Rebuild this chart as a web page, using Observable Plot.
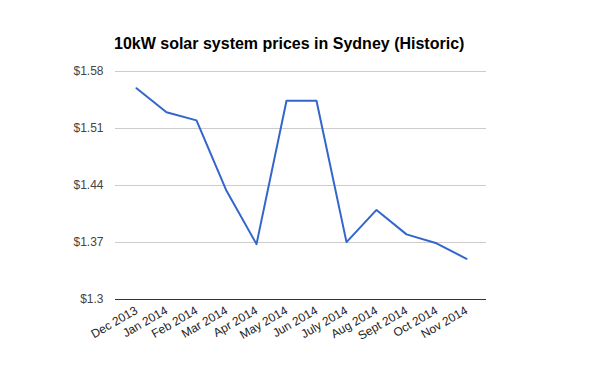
<!DOCTYPE html>
<html>
<head>
<meta charset="utf-8">
<script src="https://cdn.jsdelivr.net/npm/d3@7"></script>
<script src="https://cdn.jsdelivr.net/npm/@observablehq/plot@0.6"></script>
<style>
  html, body { margin: 0; padding: 0; background: #fff; }
  #wrap { position: relative; width: 600px; height: 371px; }
  #title { position: absolute; left: 114px; top: 35px; font: bold 16px Arial, "Liberation Sans", sans-serif; color: #000; white-space: nowrap; }
</style>
</head>
<body>
<div id="wrap"><div id="title">10kW solar system prices in Sydney (Historic)</div></div>
<script>
const months = ["Dec 2013","Jan 2014","Feb 2014","Mar 2014","Apr 2014","May 2014","Jun 2014","July 2014","Aug 2014","Sept 2014","Oct 2014","Nov 2014"];
const prices = [1.5595, 1.530, 1.520, 1.4335, 1.368, 1.544, 1.544, 1.3705, 1.410, 1.380, 1.369, 1.350];
const yTicks = [1.3, 1.37, 1.44, 1.51, 1.58];

const data = months.map((m, i) => ({month: m, price: prices[i]}));

const chart = Plot.plot({
  width: 600,
  height: 371,
  marginLeft: 115,
  marginRight: 114,
  marginTop: 71,
  marginBottom: 72,
  style: {fontFamily: "Arial, 'Liberation Sans', sans-serif", fontSize: "12px", background: "#fff", overflow: "visible"},
  x: {type: "point", domain: months, padding: 0.5, align: 0.5, label: null},
  y: {domain: [1.3, 1.58], label: null},
  marks: [
    Plot.gridY(yTicks, {stroke: "#cccccc", strokeOpacity: 1, strokeWidth: 1}),
    Plot.ruleY([1.3], {stroke: "#333333", strokeWidth: 1}),
    Plot.axisY(yTicks, {tickSize: 0, tickPadding: 12, tickFormat: d => "$" + d, fill: "#444444", fontSize: 12}),
    Plot.axisX({tickSize: 0, tickPadding: 10, tickRotate: -30, fill: "#222222", fontSize: 12}),
    Plot.line(data, {x: "month", y: "price", stroke: "#3366cc", strokeWidth: 2})
  ]
});
document.getElementById("wrap").prepend(chart);
</script>
</body>
</html>
